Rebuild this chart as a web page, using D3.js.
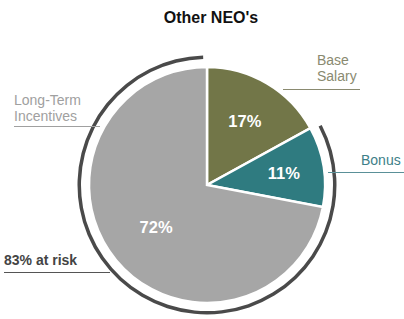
<!DOCTYPE html>
<html><head><meta charset="utf-8">
<script src="https://cdn.jsdelivr.net/npm/d3@7"></script>
<style>body{margin:0;background:#fff;}svg{display:block;font-family:"Liberation Sans",Arial,sans-serif;}</style>
</head><body>
<svg id="c" width="404" height="319"></svg>
<script>
const categories = ["Base Salary", "Bonus", "Long-Term Incentives"];
const values = [17, 11, 72];
const colors = ["#727648", "#2f7b80", "#a6a6a6"];
const labelColors = ["#8a8a70", "#3d8088", "#a0a0a0"];
const atRiskLabel = "83% at risk";
const title = "Other NEO's";

const svg = d3.select("#c");
const cx = 207, cy = 185, r = 118;

svg.append("text").attr("x", 211).attr("y", 23).attr("text-anchor", "middle")
  .attr("font-size", 16).attr("font-weight", "bold").attr("fill", "#111").text(title);

const pie = d3.pie().sort(null).value(d => d)(values);
const arc = d3.arc().innerRadius(0).outerRadius(r);
const g = svg.append("g").attr("transform", `translate(${cx},${cy})`);
g.selectAll("path.s").data(pie).join("path").attr("class", "s")
  .attr("d", arc).attr("fill", (d, i) => colors[i]).attr("stroke", "#fff").attr("stroke-width", 2.5);

// percent labels
const labelRadius = [0.63, 0.66, 0.56];
g.selectAll("text.p").data(pie).join("text").attr("class", "p")
  .each(function(d, i) {
    const c = d3.arc().innerRadius(r * labelRadius[i]).outerRadius(r * labelRadius[i]).centroid(d);
    d3.select(this).attr("x", c[0]).attr("y", c[1]);
  })
  .attr("dy", "0.35em").attr("text-anchor", "middle")
  .attr("font-size", 16.5).attr("font-weight", "bold").attr("fill", "#fff")
  .text(d => d.value + "%");

// at-risk outer arc (bonus + LTI)
const riskStart = pie[1].startAngle + 0.02, riskEnd = pie[2].endAngle - 0.03;
g.append("path").attr("d", d3.arc().innerRadius(r + 8).outerRadius(r + 11.5)({startAngle: riskStart, endAngle: riskEnd}))
  .attr("fill", "#4a4a4a");

// callout labels
function label(lines, x, y, color, anchor, weight) {
  const t = svg.append("text").attr("x", x).attr("y", y).attr("fill", color)
    .attr("font-size", 14).attr("font-weight", weight || "normal").attr("text-anchor", anchor || "start");
  lines.forEach((l, i) => t.append("tspan").attr("x", x).attr("dy", i ? 16 : 0).text(l));
}
function line(x1, x2, y, color) {
  svg.append("line").attr("x1", x1).attr("x2", x2).attr("y1", y).attr("y2", y)
    .attr("stroke", color).attr("stroke-width", 1);
}
label(["Base", "Salary"], 317, 65, labelColors[0]);
line(283, 360, 89.5, "#8a8a70");
label(["Bonus"], 361, 165, labelColors[1]);
line(328, 404, 172.5, "#5a9098");
label(["Long-Term", "Incentives"], 14, 105, labelColors[2]);
line(14, 100, 126.5, "#a0a0a0");
label([atRiskLabel], 4, 265, "#444", "start", "bold");
line(4, 110, 272.5, "#555");
</script>
</body></html>
